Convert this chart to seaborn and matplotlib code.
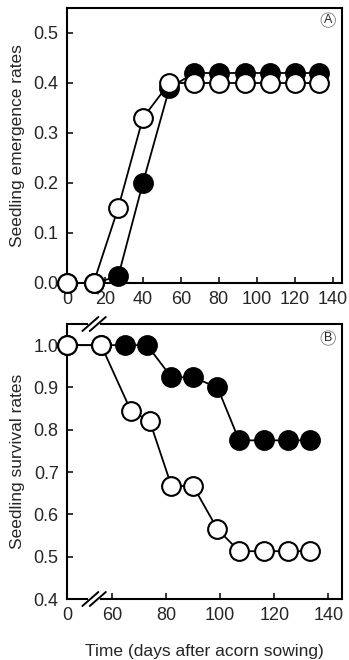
import numpy as np
import seaborn as sns
import matplotlib.pyplot as plt

# Panel A: seedling emergence
emerg_days = [0, 14, 27, 40, 54, 67, 80, 94, 107, 120, 133]
emerg_filled = [0.0, 0.0, 0.013, 0.20, 0.39, 0.42, 0.42, 0.42, 0.42, 0.42, 0.42]
emerg_open = [0.0, 0.0, 0.15, 0.33, 0.40, 0.40, 0.40, 0.40, 0.40, 0.40, 0.40]

# Panel B: seedling survival
surv_days_filled = [0, 56, 65, 73, 82, 90, 99, 107, 116, 125, 133]
surv_filled = [1.0, 1.0, 1.0, 1.0, 0.924, 0.924, 0.900, 0.775, 0.775, 0.775, 0.775]
surv_days_open = [0, 56, 67, 74, 82, 90, 99, 107, 116, 125, 133]
surv_open = [1.0, 1.0, 0.845, 0.820, 0.667, 0.667, 0.565, 0.513, 0.513, 0.513, 0.513]

sns.set_style("ticks")
plt.rcParams['font.family'] = ['Liberation Sans', 'DejaVu Sans']

W, H = 349, 660
fig = plt.figure(figsize=(W / 100, H / 100), dpi=100)
axA = fig.add_axes([67 / W, 1 - 283 / H, 275 / W, 275 / H])
axB = fig.add_axes([67 / W, 1 - 599 / H, 275 / W, 275 / H])

line_kw = dict(marker='o', markersize=13.5, markeredgewidth=1.5, markeredgecolor='black',
               color='black', linewidth=1.3, clip_on=False)


def style_axis(ax):
    for s in ax.spines.values():
        s.set_linewidth(1.5)
        s.set_color('black')
        s.set_visible(True)
    ax.tick_params(direction='in', length=4, width=1.3, labelsize=13, pad=6,
                   top=False, right=False)


# --- A ---
sns.lineplot(x=emerg_days, y=emerg_filled, ax=axA, markerfacecolor='black', zorder=3, **line_kw)
sns.lineplot(x=emerg_days, y=emerg_open, ax=axA, markerfacecolor='white', zorder=4, **line_kw)
axA.set_xlim(0, 145)
axA.set_ylim(0, 0.55)
axA.set_xticks([0, 20, 40, 60, 80, 100, 120, 140])
axA.set_yticks([0.0, 0.1, 0.2, 0.3, 0.4, 0.5])
axA.set_yticklabels([f"{v:.1f}" for v in [0.0, 0.1, 0.2, 0.3, 0.4, 0.5]])
axA.set_ylabel("Seedling emergence rates", fontsize=12.5, labelpad=6)
style_axis(axA)
axA.text(0.95, 0.956, "A", transform=axA.transAxes, fontsize=9, ha='center', va='center',
         bbox=dict(boxstyle='circle,pad=0.1', fc='white', ec='gray', lw=0.6))

# --- B: broken x axis (0, then 60-140) ---
brk, off = 50.0, 43.4
slope = (brk - off) / brk


def fwd(x):
    x = np.asarray(x, dtype=float)
    return np.where(x < brk, x * slope, x - off)


def inv(y):
    y = np.asarray(y, dtype=float)
    return np.where(y < brk - off, y / slope, y + off)


axB.set_xscale('function', functions=(fwd, inv))
sns.lineplot(x=surv_days_filled, y=surv_filled, ax=axB, markerfacecolor='black', zorder=3, **line_kw)
sns.lineplot(x=surv_days_open, y=surv_open, ax=axB, markerfacecolor='white', zorder=4, **line_kw)
axB.set_xlim(0, 145)
axB.set_ylim(0.4, 1.05)
axB.set_xticks([0, 60, 80, 100, 120, 140])
axB.set_xticklabels(["0", "60", "80", "100", "120", "140"])
axB.xaxis.set_minor_locator(plt.NullLocator())
axB.set_yticks([0.4, 0.5, 0.6, 0.7, 0.8, 0.9, 1.0])
axB.set_yticklabels([f"{v:.1f}" for v in [0.4, 0.5, 0.6, 0.7, 0.8, 0.9, 1.0]])
axB.set_ylabel("Seedling survival rates", fontsize=12.5, labelpad=6)
axB.set_xlabel("Time (days after acorn sowing)", fontsize=12.5, labelpad=14)
style_axis(axB)
axB.get_xticklines()[0].set_visible(False)
axB.text(0.95, 0.949, "B", transform=axB.transAxes, fontsize=9, ha='center', va='center',
         bbox=dict(boxstyle='circle,pad=0.1', fc='white', ec='gray', lw=0.6))

# break marks on top and bottom spines
dx, dy = 8 / 275, 7 / 275
for yb in (0, 1):
    axB.plot([0.085, 0.112], [yb, yb], transform=axB.transAxes, color='white',
             lw=3, clip_on=False, zorder=5)
    for xc in (0.085, 0.112):
        axB.plot([xc - dx, xc + dx], [yb - dy, yb + dy], transform=axB.transAxes,
                 color='black', lw=1.4, clip_on=False, zorder=6)

fig.savefig("out.png", dpi=100)
